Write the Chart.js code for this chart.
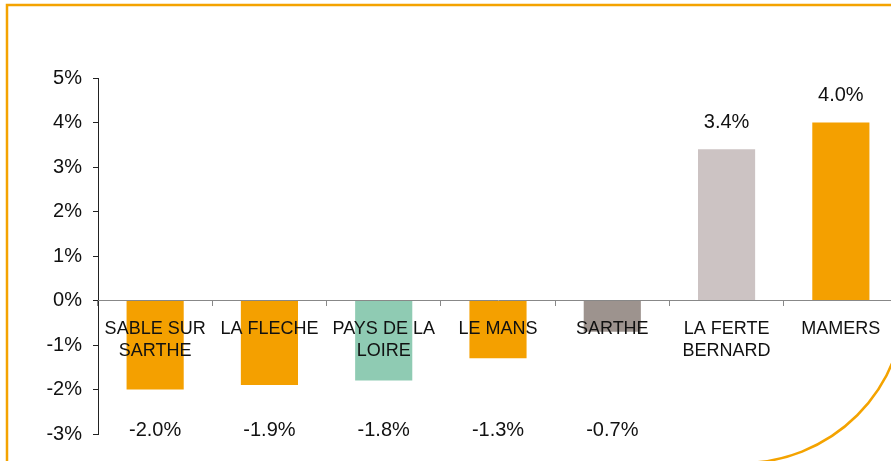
<!DOCTYPE html>
<html lang="fr">
<head>
    <meta charset="UTF-8">
    <title>Evolution</title>
    <style>
        html, body {
            margin: 0;
            padding: 0;
            background: #fff;
            overflow: hidden;
        }
        #chartContainer {
            position: relative;
            width: 906px;
            height: 461px;
        }
    </style>
</head>
<body>
    <div id="chartContainer">
        <canvas id="evolChart"></canvas>
    </div>

    <script src="https://cdn.jsdelivr.net/npm/chart.js"></script>
    <script>
        // Data
        const categories = [
            ['SABLE SUR', 'SARTHE'],
            'LA FLECHE',
            ['PAYS DE LA', 'LOIRE'],
            'LE MANS',
            'SARTHE',
            ['LA FERTE', 'BERNARD'],
            'MAMERS'
        ];
        const values = [-2.0, -1.9, -1.8, -1.3, -0.7, 3.4, 4.0];
        const barColors = ['#F4A000', '#F4A000', '#8FCBB3', '#F4A000', '#9D938E', '#CCC3C3', '#F4A000'];
        const yTicks = [-3, -2, -1, 0, 1, 2, 3, 4, 5];

        const font = "'Liberation Sans', Arial, sans-serif";

        // orange frame with rounded bottom-right corner
        const framePlugin = {
            id: 'frame',
            beforeDraw(chart) {
                const ctx = chart.ctx;
                ctx.save();
                ctx.strokeStyle = '#F4A300';
                ctx.lineWidth = 2.5;
                ctx.beginPath();
                ctx.moveTo(7, 470);
                ctx.lineTo(7, 5);
                ctx.lineTo(905, 5);
                ctx.lineTo(905, 300);
                ctx.arc(742, 300, 163, 0, Math.PI / 2);
                ctx.lineTo(7, 463);
                ctx.stroke();
                ctx.restore();
            }
        };

        // value labels: above positive bars, along the bottom for negative ones
        const valueLabels = {
            id: 'valueLabels',
            afterDatasetsDraw(chart) {
                const ctx = chart.ctx;
                const meta = chart.getDatasetMeta(0);
                ctx.save();
                ctx.font = '20px ' + font;
                ctx.fillStyle = '#111';
                ctx.textAlign = 'center';
                ctx.textBaseline = 'middle';
                meta.data.forEach((bar, i) => {
                    const v = values[i];
                    const y = v >= 0 ? bar.y - 27 : chart.chartArea.bottom - 4;
                    ctx.fillText(v.toFixed(1) + '%', bar.x, y);
                });
                ctx.restore();
            }
        };

        const ctx = document.getElementById('evolChart').getContext('2d');
        new Chart(ctx, {
            type: 'bar',
            data: {
                labels: categories,
                datasets: [{
                    data: values,
                    backgroundColor: barColors,
                    borderWidth: 0,
                    categoryPercentage: 1,
                    barPercentage: 0.5
                }]
            },
            options: {
                responsive: true,
                maintainAspectRatio: false,
                animation: false,
                layout: {
                    padding: { left: 0, top: 78, bottom: 27, right: 8 }
                },
                plugins: {
                    legend: { display: false },
                    tooltip: { enabled: false }
                },
                scales: {
                    x: {
                        position: { y: 0 },
                        grid: {
                            offset: true,
                            drawOnChartArea: false,
                            tickLength: 5,
                            color: '#888',
                            z: 1
                        },
                        border: { color: '#888', width: 1, z: 1 },
                        ticks: {
                            z: 1,
                            padding: 12,
                            maxRotation: 0,
                            autoSkip: false,
                            color: '#111',
                            font: { family: font, size: 18, lineHeight: 1.25 }
                        }
                    },
                    y: {
                        min: -3,
                        max: 5,
                        afterBuildTicks(scale) {
                            scale.ticks = yTicks.map(v => ({ value: v }));
                        },
                        afterFit(scale) {
                            scale.width = 98;
                        },
                        grid: {
                            drawOnChartArea: false,
                            tickLength: 5,
                            color: '#222'
                        },
                        border: { color: '#222', width: 1 },
                        ticks: {
                            padding: 11,
                            color: '#111',
                            font: { family: font, size: 20 },
                            callback: v => v + '%'
                        }
                    }
                }
            },
            plugins: [framePlugin, valueLabels]
        });
    </script>
</body>
</html>
